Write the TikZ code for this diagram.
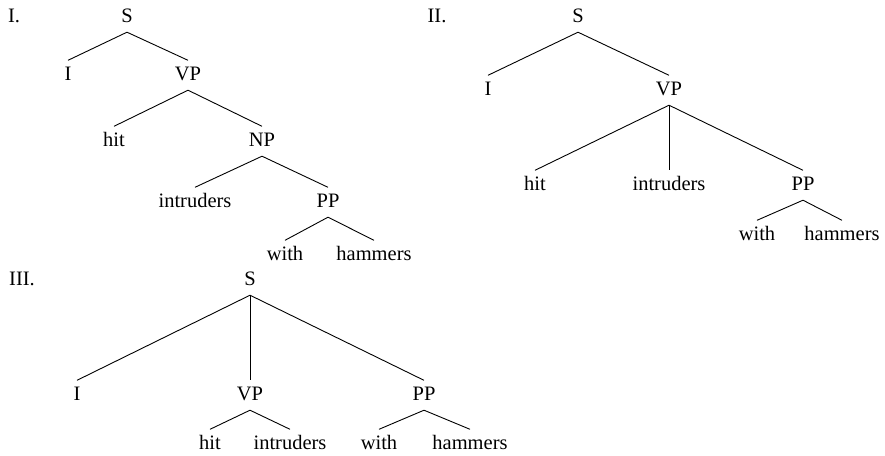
\documentclass[tikz,border=0pt]{standalone}
\usepackage{fontspec}
\setmainfont{Liberation Serif}
\usepackage{tikz}

\tikzset{
    cat/.style={inner sep=0pt, text height=19.5pt, text depth=10pt, anchor=base},
    num/.style={inner sep=0pt, anchor=base},
    branch/.style={line width=0.9pt}
}

\begin{document}
\begin{tikzpicture}[x=1pt, y=-1pt, font=\fontsize{20.5}{24}\selectfont]
            \useasboundingbox (0,0) rectangle (885,455);
            % I.
            \node (lab1)  [num] at (14,22)   {I.};
            \node (S1)    [cat] at (127,22)  {S};
            \node (I1)    [cat] at (68,80)   {I};
            \node (VP1)   [cat] at (188,80)  {VP};
            \node (hit1)  [cat] at (114,146) {hit};
            \node (NP1)   [cat] at (262,146) {NP};
            \node (intr1) [cat] at (195,207) {intruders};
            \node (PP1)   [cat] at (328,207) {PP};
            \node (with1) [cat] at (285,260) {with};
            \node (ham1)  [cat] at (374,260) {hammers};
            \draw [branch] (S1.south)  -- (I1.north);
            \draw [branch] (S1.south)  -- (VP1.north);
            \draw [branch] (VP1.south) -- (hit1.north);
            \draw [branch] (VP1.south) -- (NP1.north);
            \draw [branch] (NP1.south) -- (intr1.north);
            \draw [branch] (NP1.south) -- (PP1.north);
            \draw [branch] (PP1.south) -- (with1.north);
            \draw [branch] (PP1.south) -- (ham1.north);
            % II.
            \node (lab2)  [num] at (437,22)  {II.};
            \node (S2)    [cat] at (578,22)  {S};
            \node (I2)    [cat] at (488,95)  {I};
            \node (VP2)   [cat] at (669,95)  {VP};
            \node (hit2)  [cat] at (535,190) {hit};
            \node (intr2) [cat] at (669,190) {intruders};
            \node (PP2)   [cat] at (803,190) {PP};
            \node (with2) [cat] at (757,240) {with};
            \node (ham2)  [cat] at (842,240) {hammers};
            \draw [branch] (S2.south)  -- (I2.north);
            \draw [branch] (S2.south)  -- (VP2.north);
            \draw [branch] (VP2.south) -- (hit2.north);
            \draw [branch] (VP2.south) -- (intr2.north);
            \draw [branch] (VP2.south) -- (PP2.north);
            \draw [branch] (PP2.south) -- (with2.north);
            \draw [branch] (PP2.south) -- (ham2.north);
            % III.
            \node (lab3)  [num] at (22,285)  {III.};
            \node (S3)    [cat] at (250,285) {S};
            \node (I3)    [cat] at (77,400)  {I};
            \node (VP3)   [cat] at (250,400) {VP};
            \node (PP3)   [cat] at (424,400) {PP};
            \node (hit3)  [cat] at (210,449) {hit};
            \node (intr3) [cat] at (290,449) {intruders};
            \node (with3) [cat] at (379,449) {with};
            \node (ham3)  [cat] at (470,449) {hammers};
            \draw [branch] (S3.south)  -- (I3.north);
            \draw [branch] (S3.south)  -- (VP3.north);
            \draw [branch] (S3.south)  -- (PP3.north);
            \draw [branch] (VP3.south) -- (hit3.north);
            \draw [branch] (VP3.south) -- (intr3.north);
            \draw [branch] (PP3.south) -- (with3.north);
            \draw [branch] (PP3.south) -- (ham3.north);
        \end{tikzpicture}
\end{document}
